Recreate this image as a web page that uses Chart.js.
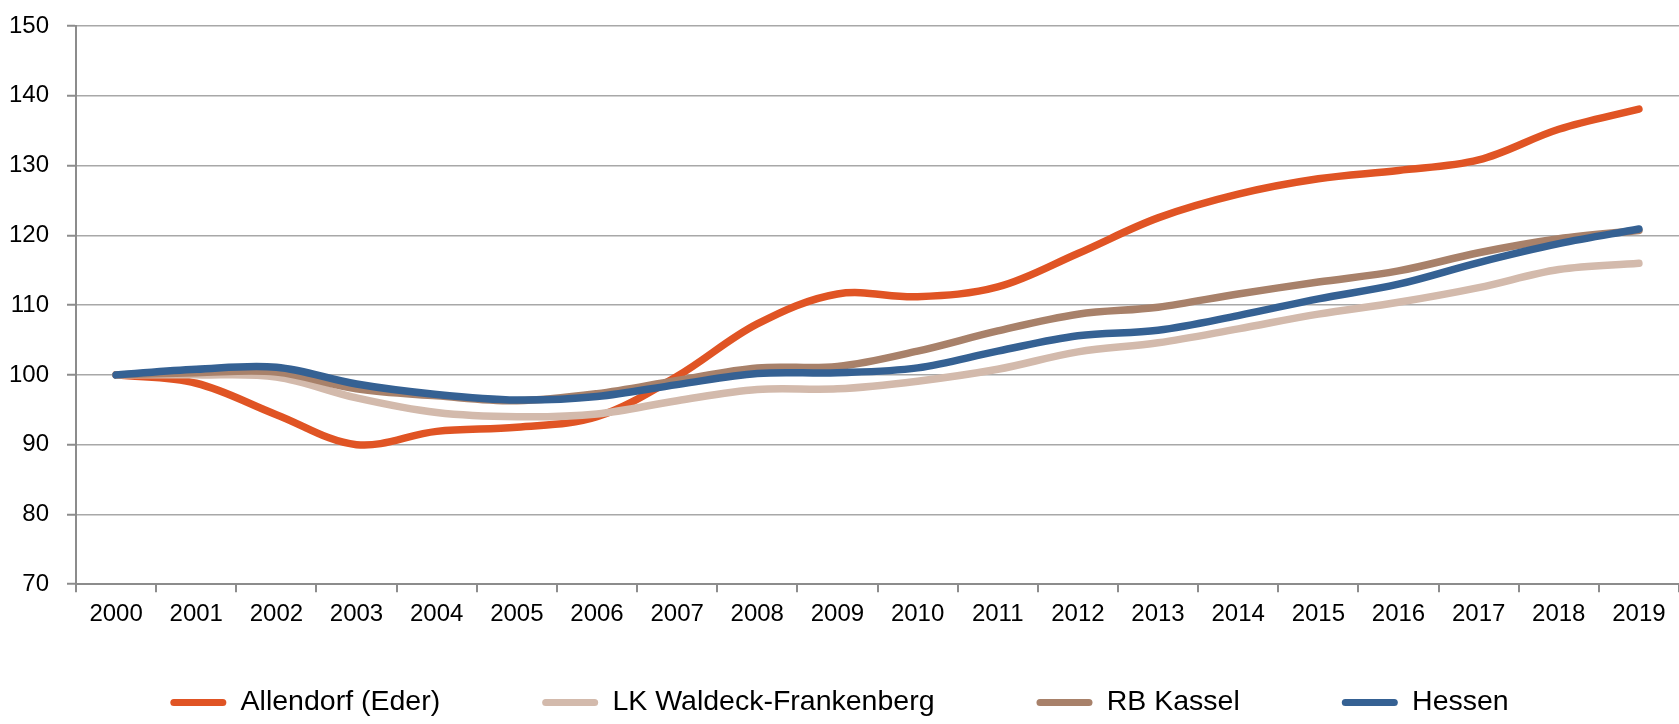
<!DOCTYPE html>
<html>
<head>
<meta charset="utf-8">
<script src="https://cdn.jsdelivr.net/npm/chart.js@4.4.1/dist/chart.umd.min.js"></script>
<style>
    html, body { margin: 0; padding: 0; background: #fff; }
    #wrap { width: 1679px; height: 724px; }
</style>
</head>
<body>
<div id="wrap"><canvas id="chart"></canvas></div>
<script>
// values (index, 2000 = 100)
const years = ['2000', '2001', '2002', '2003', '2004', '2005', '2006', '2007', '2008', '2009',
               '2010', '2011', '2012', '2013', '2014', '2015', '2016', '2017', '2018', '2019'];
const allendorf = [100, 98.8, 94.3, 90.0, 91.9, 92.5, 94.0, 99.8, 107.3, 111.6,
                   111.2, 112.6, 117.4, 122.5, 125.9, 128.1, 129.3, 130.8, 135.2, 138.1];
const waldeck   = [100, 100.0, 99.7, 96.7, 94.6, 94.0, 94.4, 96.3, 97.9, 98.0,
                   99.1, 100.8, 103.3, 104.6, 106.6, 108.7, 110.4, 112.5, 115.1, 116.0];
const kassel    = [100, 100.3, 100.4, 98.0, 97.0, 96.3, 97.3, 99.2, 101.0, 101.2,
                   103.4, 106.3, 108.7, 109.7, 111.6, 113.3, 114.9, 117.5, 119.5, 120.7];
const hessen    = [100, 100.8, 101.1, 98.7, 97.2, 96.4, 96.9, 98.6, 100.2, 100.3,
                   101.0, 103.4, 105.6, 106.4, 108.5, 110.9, 113.0, 116.1, 118.8, 120.9];
const yTicks = [70, 150, 10]; // min, max, step

const FONT = "'Liberation Sans', Arial, sans-serif";
const AXIS = '#8c8c8c';

// legend padding is used for the gaps between items, but Chart.js also puts it
// above the row - keep the layout box small and start the row right under the plot
const legendSpacing = {
    id: 'legendSpacing',
    beforeInit(chart) {
        const fit = chart.legend.fit;
        chart.legend.fit = function () {
            fit.call(this);
            this.height = 87;
        };
    },
    afterLayout(chart) {
        chart.legend.top = chart.chartArea.bottom + 2;
    }
};

document.addEventListener('DOMContentLoaded', () => {
    const ctx = document.getElementById('chart');

    const line = (label, data, color, order) => ({
        label: label,
        data: data,
        borderColor: color,
        backgroundColor: color,
        borderWidth: 7.5,
        borderCapStyle: 'round',
        borderJoinStyle: 'round',
        pointRadius: 0,
        tension: 0.35,
        order: order // later series drawn on top, like the original
    });

    new Chart(ctx, {
        type: 'line',
        data: {
            labels: years,
            datasets: [
                line('Allendorf (Eder)', allendorf, '#e05424', 4),
                line('LK Waldeck-Frankenberg', waldeck, '#d3baac', 3),
                line('RB Kassel', kassel, '#a8816a', 2),
                line('Hessen', hessen, '#356193', 1)
            ]
        },
        plugins: [legendSpacing],
        options: {
            responsive: true,
            maintainAspectRatio: false,
            animation: false,
            layout: { padding: 0 },
            plugins: {
                tooltip: { enabled: false },
                legend: {
                    position: 'bottom',
                    reverse: true,
                    labels: {
                        color: '#000',
                        font: { family: FONT, size: 28.5 },
                        boxWidth: 56,
                        boxHeight: 7,
                        useBorderRadius: true,
                        borderRadius: 3.5,
                        padding: 102,
                        generateLabels: chart => {
                            const items = Chart.defaults.plugins.legend.labels.generateLabels(chart);
                            items.forEach(it => { it.lineWidth = 0; it.borderRadius = 3.5; });
                            return items;
                        }
                    }
                }
            },
            scales: {
                x: {
                    offset: true,
                    grid: { drawOnChartArea: false, offset: true, tickLength: 8, color: AXIS, lineWidth: 2 },
                    border: { color: AXIS, width: 2 },
                    ticks: { color: '#000', font: { family: FONT, size: 24 }, padding: 8, maxRotation: 0, autoSkip: false }
                },
                y: {
                    min: yTicks[0],
                    max: yTicks[1],
                    grid: { color: '#a8a8a8', lineWidth: 1.5, tickLength: 9, tickColor: AXIS, tickWidth: 2 },
                    border: { color: AXIS, width: 2 },
                    ticks: { stepSize: yTicks[2], color: '#000', font: { family: FONT, size: 24 }, padding: 18 },
                    afterFit: scale => {
                        scale.width = 76;
                        scale.paddingTop = 26;
                    }
                }
            }
        }
    });
});
</script>
</body>
</html>
